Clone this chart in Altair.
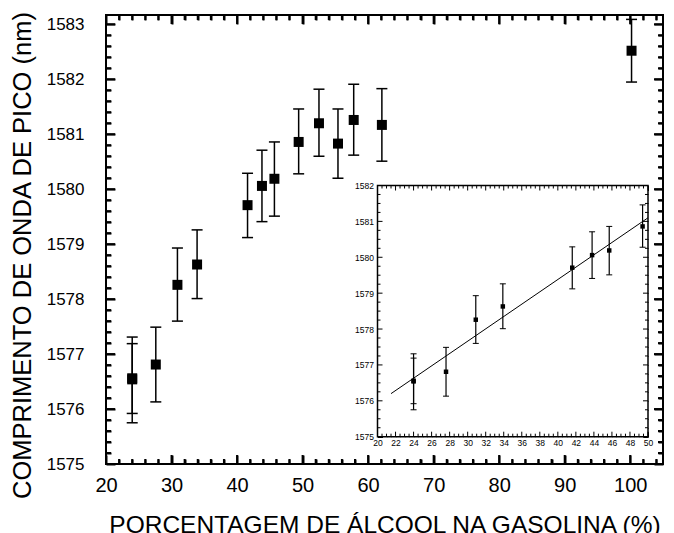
import altair as alt
import pandas as pd

# ---------------- data ----------------
pct    = [24.0, 24.0, 27.6, 30.9, 33.9, 41.6, 43.8, 45.7, 49.4, 52.5, 55.4, 57.8, 62.1, 100.2]
peak   = [1576.54, 1576.56, 1576.81, 1578.26, 1578.63, 1579.71, 1580.06, 1580.19, 1580.86,
          1581.20, 1580.83, 1581.26, 1581.17, 1582.52]
err_hi = [1577.31, 1577.19, 1577.49, 1578.93, 1579.26, 1580.29, 1580.71, 1580.86, 1581.46,
          1581.82, 1581.46, 1581.91, 1581.83, 1583.09]
err_lo = [1575.75, 1575.92, 1576.13, 1577.60, 1578.01, 1579.12, 1579.41, 1579.51, 1580.28,
          1580.60, 1580.20, 1580.62, 1580.51, 1581.95]
INSET_N = 9  # first nine points are repeated in the inset

fit_pct = [21.5, 50.0]
fit_peak = [1576.2, 1581.1]

main_x_major = [20, 30, 40, 50, 60, 70, 80, 90, 100]
main_x_minor = [v for v in range(22, 105, 2) if v % 10 != 0]
main_y_major = [1575, 1576, 1577, 1578, 1579, 1580, 1581, 1582, 1583]
main_y_minor = [round(1575 + 0.2 * i, 1) for i in range(1, 41) if i % 5 != 0]
inset_x_major = list(range(20, 51, 2))
inset_x_minor = [20 + 0.5 * i for i in range(1, 60) if i % 4 != 0]
inset_y_major = [1575, 1576, 1577, 1578, 1579, 1580, 1581, 1582]
inset_y_minor = [1575 + 0.25 * i for i in range(1, 28) if i % 4 != 0]

X_TITLE = "PORCENTAGEM DE ÁLCOOL NA GASOLINA (%)"
Y_TITLE = "COMPRIMENTO DE ONDA DE PICO (nm)"

# ---------------- layout ----------------
W, H = 557, 449
IX0, IX1 = 271.5, 542.0      # inset left/right in plot pixels
IY0, IY1 = 421.7, 170.5      # inset bottom/top in plot pixels
FONT = "Liberation Sans"

MX = (20.0, 105.0)
MY = (1575.0, 1583.17)
IXD = (20.0, 50.0)
IYD = (1575.0, 1582.0)

df = pd.DataFrame({"pct": pct, "peak": peak, "lo": err_lo, "hi": err_hi})
dfi = df.iloc[:INSET_N].reset_index(drop=True)


def tick_frame(xmaj, xmin, ymaj, ymin, xdom, ydom, wpx, hpx, lmaj, lmin):
    """Segments (pct, pct2, peak, peak2) for inward ticks on all four sides."""
    kx = (xdom[1] - xdom[0]) / wpx
    ky = (ydom[1] - ydom[0]) / hpx
    rows = []
    for vals, ln in ((xmaj, lmaj), (xmin, lmin)):
        for v in vals:
            rows.append((float(v), float(v), ydom[0], ydom[0] + ln * ky))
            rows.append((float(v), float(v), ydom[1], ydom[1] - ln * ky))
    for vals, ln in ((ymaj, lmaj), (ymin, lmin)):
        for v in vals:
            rows.append((xdom[0], xdom[0] + ln * kx, float(v), float(v)))
            rows.append((xdom[1], xdom[1] - ln * kx, float(v), float(v)))
    return pd.DataFrame(rows, columns=["pct", "pct2", "peak", "peak2"])


def tick_axis(orient, offset, ln, vals, sw):
    """Axis that only draws ticks; shifted inside so that ticks point inward."""
    return alt.Axis(orient=orient, offset=offset, tickSize=ln, values=vals, ticks=True,
                    labels=False, domain=False, grid=False, title=None,
                    tickWidth=sw, tickColor="black", tickOpacity=1)


def tick_layers(data, sx, sy, specs):
    out = []
    for ax_x, ax_y in specs:
        out.append(alt.Chart(data).mark_point(opacity=0, size=1).encode(
            x=alt.X("pct:Q", scale=sx, axis=ax_x),
            y=alt.Y("peak:Q", scale=sy, axis=ax_y)))
    return out


# ---------------- main panel ----------------
SX = alt.Scale(domain=list(MX), nice=False, zero=False)
SY = alt.Scale(domain=list(MY), nice=False, zero=False)
AX = alt.Axis(orient="bottom", values=main_x_major, format="d", title=X_TITLE, ticks=False,
              tickSize=0, domain=False, grid=False, labelFontSize=20, labelPadding=11,
              labelFlush=False, labelOverlap=False, titleFontSize=24.5,
              titleFontWeight="normal", titleY=68, titleBaseline="alphabetic")
AY = alt.Axis(orient="left", values=main_y_major, format="d", title=Y_TITLE, ticks=False,
              tickSize=0, domain=False, grid=False, labelFontSize=17, labelPadding=22,
              labelOverlap=False, titleFontSize=25.5, titleFontWeight="normal",
              titleAngle=270, titleX=-84, titleY=240, titleBaseline="middle",
              titleAlign="center")


def mx(field="pct", axis=None):
    return alt.X(f"{field}:Q", scale=SX, axis=axis)


def my(field="peak", axis=None):
    return alt.Y(f"{field}:Q", scale=SY, axis=axis)


main_tick_segs = alt.Chart(
    tick_frame(main_x_major, main_x_minor, main_y_major, main_y_minor, MX, MY, W, H, 9, 5)
).mark_rule(color="black", strokeWidth=2).encode(
    x=mx(), x2="pct2:Q", y=my(), y2="peak2:Q")
main_bars = alt.Chart(df).mark_rule(color="black", strokeWidth=1.5).encode(
    x=mx(), y=my("lo"), y2="hi:Q")
main_cap_hi = alt.Chart(df).mark_tick(orient="horizontal", size=11, thickness=1.5,
                                      color="black", opacity=1).encode(x=mx(), y=my("hi"))
main_cap_lo = alt.Chart(df).mark_tick(orient="horizontal", size=11, thickness=1.5,
                                      color="black", opacity=1).encode(x=mx(), y=my("lo"))
main_pts = alt.Chart(df).mark_square(size=100, color="black", opacity=1).encode(
    x=mx(axis=AX), y=my(axis=AY))

main_tick_specs = [
    (tick_axis("bottom", -9, 9, main_x_major, 2), tick_axis("left", -9, 9, main_y_major, 2)),
    (tick_axis("top", -9, 9, main_x_major, 2), tick_axis("right", -9, 9, main_y_major, 2)),
    (tick_axis("bottom", -5, 5, main_x_minor, 2), tick_axis("left", -5, 5, main_y_minor, 2)),
    (tick_axis("top", -5, 5, main_x_minor, 2), tick_axis("right", -5, 5, main_y_minor, 2)),
]

main = alt.layer(
    main_bars, main_cap_hi, main_cap_lo, main_pts, main_tick_segs,
    *tick_layers(df, SX, SY, main_tick_specs),
).resolve_axis(x="independent", y="independent")

# ---------------- inset ----------------
SXI = alt.Scale(domain=list(IXD), range=[IX0, IX1], nice=False, zero=False)
SYI = alt.Scale(domain=list(IYD), range=[IY0, IY1], nice=False, zero=False)
AXI = alt.Axis(orient="bottom", offset=-(H - IY0), values=inset_x_major, format="d",
               title=None, ticks=False, tickSize=0, domain=False, grid=False,
               labelFontSize=8.5, labelPadding=2, labelFlush=False, labelOverlap=False)
AYI = alt.Axis(orient="left", offset=-IX0, values=inset_y_major, format="d",
               title=None, ticks=False, tickSize=0, domain=False, grid=False,
               labelFontSize=8.5, labelPadding=4, labelOverlap=False)


def ix(field="pct", axis=None):
    return alt.X(f"{field}:Q", scale=SXI, axis=axis)


def iy(field="peak", axis=None):
    return alt.Y(f"{field}:Q", scale=SYI, axis=axis)


frame_df = pd.DataFrame({"pct": [IXD[0]], "pct2": [IXD[1]], "peak": [IYD[0]], "peak2": [IYD[1]]})
inset_frame = alt.Chart(frame_df).mark_rect(fill="white", stroke="black",
                                            strokeWidth=1.5).encode(
    x=ix(axis=AXI), x2="pct2:Q", y=iy(axis=AYI), y2="peak2:Q")
IW, IH = IX1 - IX0, IY0 - IY1
inset_tick_segs = alt.Chart(
    tick_frame(inset_x_major, inset_x_minor, inset_y_major, inset_y_minor,
               IXD, IYD, IW, IH, 5, 3)
).mark_rule(color="black", strokeWidth=1).encode(
    x=ix(), x2="pct2:Q", y=iy(), y2="peak2:Q")
fit_df = pd.DataFrame({"pct": fit_pct, "peak": fit_peak})
inset_fit = alt.Chart(fit_df).mark_line(color="black", strokeWidth=1).encode(
    x=ix(), y=iy())
inset_bars = alt.Chart(dfi).mark_rule(color="black", strokeWidth=1.2).encode(
    x=ix(), y=iy("lo"), y2="hi:Q")
inset_cap_hi = alt.Chart(dfi).mark_tick(orient="horizontal", size=6, thickness=1,
                                        color="black", opacity=1).encode(x=ix(), y=iy("hi"))
inset_cap_lo = alt.Chart(dfi).mark_tick(orient="horizontal", size=6, thickness=1,
                                        color="black", opacity=1).encode(x=ix(), y=iy("lo"))
inset_pts = alt.Chart(dfi).mark_square(size=20, color="black", opacity=1).encode(
    x=ix(), y=iy())

inset_tick_specs = []
for ln, xv, yv in ((5, inset_x_major, inset_y_major), (3, inset_x_minor, inset_y_minor)):
    inset_tick_specs.append((
        tick_axis("bottom", -(H - IY0) - ln, ln, xv, 1),
        tick_axis("left", -(IX0 + ln), ln, yv, 1)))
    inset_tick_specs.append((
        tick_axis("top", -(IY1 + ln), ln, xv, 1),
        tick_axis("right", -(W - IX1 + ln), ln, yv, 1)))

inset = alt.layer(
    inset_frame, inset_tick_segs, inset_fit, inset_bars, inset_cap_hi, inset_cap_lo,
    inset_pts, *tick_layers(dfi, SXI, SYI, inset_tick_specs),
).resolve_axis(x="independent", y="independent")

chart = alt.layer(main, inset).resolve_scale(
    x="independent", y="independent"
).properties(
    width=W, height=H,
    padding={"left": 98, "top": 7, "right": 3, "bottom": 69},
    autosize=alt.AutoSizeParams(type="none"),
    background="white",
).configure_view(
    stroke="black", strokeWidth=2
).configure_axis(
    labelFont=FONT, titleFont=FONT, labelColor="black", titleColor="black"
)

chart.save("out.html", embed_options={"renderer": "svg", "actions": False})
